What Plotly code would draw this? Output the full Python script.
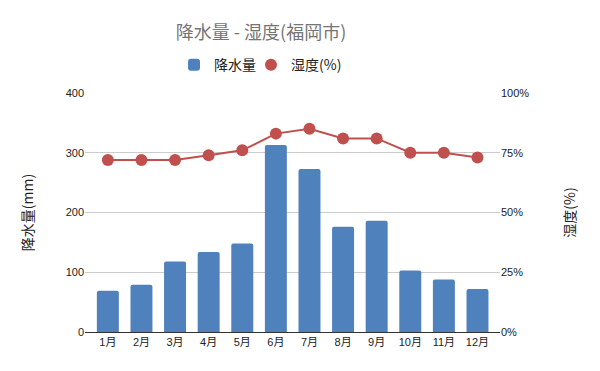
import plotly.graph_objects as go
from plotly.subplots import make_subplots

months = ["1月", "2月", "3月", "4月", "5月", "6月", "7月", "8月", "9月", "10月", "11月", "12月"]
rain = [69, 79, 118, 134, 148, 313, 273, 176, 186, 103, 88, 72]
humidity = [72, 72, 72, 74, 76, 83, 85, 81, 81, 75, 75, 73]
rain_ticks = [0, 100, 200, 300, 400]
hum_ticks = [0, 25, 50, 75, 100]
hum_labels = ["0%", "25%", "50%", "75%", "100%"]

font = "Arial, Noto Sans CJK JP, sans-serif"
cjk = "Noto Sans CJK JP, sans-serif"
bar_color = "#4f81bd"
line_color = "#c0504d"

fig = make_subplots(specs=[[{"secondary_y": True}]])
fig.add_trace(go.Bar(x=months, y=rain, name="降水量", marker_color=bar_color,
                     marker_line_width=0, marker_cornerradius=2, legend="legend"),
              secondary_y=False)
fig.add_trace(go.Scatter(x=months, y=humidity, name="湿度(%)", mode="lines+markers",
                         line=dict(color=line_color, width=2),
                         marker=dict(color=line_color, size=12), showlegend=False),
              secondary_y=True)
fig.add_trace(go.Scatter(x=[None], y=[None], name="湿度(%)", mode="markers",
                         marker=dict(color=line_color, size=12), legend="legend2"),
              secondary_y=True)

legend_style = dict(orientation="h", yanchor="middle", y=1.117, xanchor="left",
                    font=dict(family=cjk, size=14, color="#222222"),
                    bgcolor="rgba(0,0,0,0)")

# page body has an 8px default margin, so offsets are compensated here
fig.update_layout(
    width=600, height=371,
    margin=dict(l=77, r=108, t=85, b=47, autoexpand=False),
    paper_bgcolor="white", plot_bgcolor="white",
    font=dict(family=font, size=11, color="#222222"),
    bargap=0.346,
    title=dict(text="降水量 - 湿度(福岡市)", xref="container", x=253 / 600, xanchor="center",
               yref="container", y=1 - 25 / 371, yanchor="middle",
               font=dict(family=cjk, size=18, color="#757575")),
    legend=dict(x=(174 - 85) / 415, **legend_style),
    legend2=dict(x=(251 - 85) / 415, **legend_style),
    showlegend=True,
)
fig.update_xaxes(domain=[0, 1], range=[-0.68, 11.67], showgrid=False, showline=True,
                 linecolor="#333333", linewidth=1, ticks="", tickfont=dict(size=11),
                 automargin=False)
fig.update_yaxes(range=[0, 400], tickvals=rain_ticks, showgrid=True,
                 gridcolor="#cccccc", zeroline=False, ticks="", automargin=False,
                 title=dict(text="降水量(mm)", font=dict(family=cjk, size=14, color="#222222"),
                            standoff=28),
                 secondary_y=False)
fig.update_yaxes(range=[0, 100], tickvals=hum_ticks, ticktext=hum_labels,
                 showgrid=False, zeroline=False, ticks="", automargin=False,
                 title=dict(text="湿度(%)", font=dict(family=cjk, size=14, color="#222222"),
                            standoff=36),
                 secondary_y=True)
fig.layout.xaxis.domain = [0, 1]

fig.write_html("out.html")
